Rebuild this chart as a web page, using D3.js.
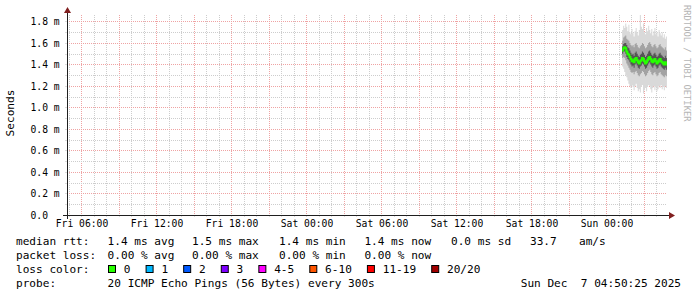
<!DOCTYPE html>
<html>
<head>
<meta charset="utf-8">
<script src="https://cdn.jsdelivr.net/npm/d3@7"></script>
<style>
  body { margin: 0; background: #fff; }
  svg { display: block; font-family: "DejaVu Sans Mono", monospace; }
</style>
</head>
<body>
<svg id="chart" width="697" height="297"></svg>
<script>
// graph window (48h ending at render time)
const graphStart = new Date(2025, 11, 5, 4, 50, 25)
const graphEnd = new Date(2025, 11, 7, 4, 50, 25)

// first sample and step of the probe
const firstSample = new Date(2025, 11, 7, 1, 15, 0)
const stepMinutes = 5

// values in ms, one per step
const medianRtt = [1.53, 1.55, 1.56, 1.55, 1.52, 1.50, 1.49, 1.47, 1.45, 1.43, 1.44, 1.42, 1.45, 1.46, 1.44,
  1.42, 1.41, 1.43, 1.44, 1.46, 1.45, 1.43, 1.41, 1.42, 1.44, 1.46, 1.47, 1.45, 1.43, 1.42, 1.44, 1.45, 1.43,
  1.41, 1.42, 1.44, 1.45, 1.43, 1.42, 1.41, 1.40, 1.42, 1.40]
const pingMin = [1.38, 1.36, 1.33, 1.30, 1.28, 1.25, 1.22, 1.20, 1.18, 1.21, 1.19, 1.16, 1.20, 1.22, 1.18,
  1.15, 1.17, 1.14, 1.19, 1.21, 1.13, 1.16, 1.18, 1.15, 1.19, 1.21, 1.20, 1.17, 1.14, 1.18, 1.20, 1.16, 1.19,
  1.15, 1.17, 1.20, 1.18, 1.21, 1.17, 1.19, 1.16, 1.20, 1.18]
const pingP20 = [1.46, 1.47, 1.46, 1.44, 1.41, 1.39, 1.37, 1.35, 1.33, 1.32, 1.33, 1.31, 1.33, 1.34, 1.32,
  1.30, 1.29, 1.31, 1.32, 1.34, 1.33, 1.31, 1.29, 1.30, 1.32, 1.34, 1.35, 1.33, 1.31, 1.30, 1.32, 1.33, 1.31,
  1.29, 1.30, 1.32, 1.33, 1.31, 1.30, 1.29, 1.28, 1.30, 1.29]
const pingP35 = [1.50, 1.52, 1.52, 1.50, 1.47, 1.45, 1.44, 1.42, 1.40, 1.38, 1.39, 1.37, 1.40, 1.41, 1.39,
  1.37, 1.36, 1.38, 1.39, 1.41, 1.40, 1.38, 1.36, 1.37, 1.39, 1.41, 1.42, 1.40, 1.38, 1.37, 1.39, 1.40, 1.38,
  1.36, 1.37, 1.39, 1.40, 1.38, 1.37, 1.36, 1.35, 1.37, 1.35]
const pingP65 = [1.57, 1.59, 1.60, 1.60, 1.58, 1.56, 1.55, 1.53, 1.51, 1.49, 1.50, 1.48, 1.51, 1.52, 1.50,
  1.48, 1.47, 1.49, 1.50, 1.52, 1.51, 1.49, 1.47, 1.48, 1.50, 1.52, 1.53, 1.51, 1.49, 1.48, 1.50, 1.51, 1.49,
  1.47, 1.48, 1.50, 1.51, 1.49, 1.48, 1.47, 1.46, 1.48, 1.46]
const pingP80 = [1.62, 1.65, 1.66, 1.67, 1.64, 1.63, 1.62, 1.60, 1.58, 1.57, 1.58, 1.56, 1.59, 1.60, 1.58,
  1.56, 1.55, 1.57, 1.58, 1.60, 1.59, 1.57, 1.55, 1.56, 1.58, 1.60, 1.61, 1.59, 1.57, 1.56, 1.58, 1.59, 1.57,
  1.55, 1.56, 1.58, 1.59, 1.57, 1.56, 1.55, 1.54, 1.56, 1.53]
const pingMax = [1.72, 1.76, 1.74, 1.78, 1.75, 1.71, 1.77, 1.70, 1.68, 1.73, 1.69, 1.66, 1.71, 1.74, 1.70,
  1.67, 1.72, 1.86, 1.75, 1.73, 1.78, 1.70, 1.68, 1.74, 1.71, 1.76, 1.72, 1.69, 1.73, 1.67, 1.71, 1.74, 1.68,
  1.70, 1.66, 1.72, 1.69, 1.67, 1.70, 1.65, 1.68, 1.64, 1.66]

const yTickValues = [0, 0.2, 0.4, 0.6, 0.8, 1.0, 1.2, 1.4, 1.6, 1.8]
const yMax = 1.86

// legend
const rttStats = ['1.4 ms avg', '1.5 ms max', '1.4 ms min', '1.4 ms now', '0.0 ms sd']
const lossStats = ['0.00 % avg', '0.00 % max', '0.00 % min', '0.00 % now']
const lossLabels = ['0', '1', '2', '3', '4-5', '6-10', '11-19', '20/20']
const lossColors = ['#26ff00', '#00b8ff', '#0059ff', '#7e00ff', '#ff00ff', '#ff5500', '#ff0000', '#a10000']
const probeText = '20 ICMP Echo Pings (56 Bytes) every 300s'
const stampText = 'Sun Dec  7 04:50:25 2025'

const svg = d3.select('#chart')
const pLeft = 67, pRight = 667, pTop = 15, pBottom = 215
const minorCol = '#cdcdcd', majorCol = '#efa3a3'

const x = d3.scaleTime().domain([graphStart, graphEnd]).range([pLeft, pRight])
const y = d3.scaleLinear().domain([0, yMax]).range([pBottom, pTop])

// grid
const grid = svg.append('g').attr('shape-rendering', 'crispEdges')
const hours = d3.timeHour.range(d3.timeHour.ceil(graphStart), graphEnd)
hours.forEach(function (h) {
  const major = h.getHours() % 3 === 0
  const px = Math.round(x(h)) + 0.5
  const c = major ? majorCol : minorCol
  grid.append('line').attr('x1', px).attr('x2', px).attr('y1', pTop).attr('y2', pBottom)
    .attr('stroke', c).attr('stroke-dasharray', '1,1')
  grid.append('line').attr('x1', px).attr('x2', px).attr('y1', pBottom).attr('y2', pBottom + 2).attr('stroke', '#dcdcdc')
})
d3.range(1, 19).forEach(function (k) {
  const major = k % 2 === 0
  const py = Math.round(y(k / 10)) + 0.5
  const c = major ? majorCol : minorCol
  grid.append('line').attr('x1', pLeft).attr('x2', pRight).attr('y1', py).attr('y2', py)
    .attr('stroke', c).attr('stroke-dasharray', '1,1')
  grid.append('line').attr('x1', pLeft - 2).attr('x2', pLeft).attr('y1', py).attr('y2', py).attr('stroke', '#dcdcdc')
})

// smoke + median
const samples = medianRtt.map(function (m, i) {
  return {
    t: d3.timeMinute.offset(firstSample, i * stepMinutes),
    med: m, lo: pingMin[i], p20: pingP20[i], p35: pingP35[i], p65: pingP65[i], p80: pingP80[i], hi: pingMax[i]
  }
})
const last = samples[samples.length - 1]
const stepped = samples.concat([Object.assign({}, last, { t: d3.timeMinute.offset(last.t, stepMinutes) })])

const bands = [['lo', 'hi', '#d9d9d9'], ['p20', 'p80', '#a3a3a3'], ['p35', 'p65', '#555555']]
bands.forEach(function (b) {
  svg.append('path').datum(stepped)
    .attr('fill', b[2])
    .attr('d', d3.area().curve(d3.curveStepAfter)
      .x(function (d) { return x(d.t) })
      .y0(function (d) { return y(d[b[0]]) })
      .y1(function (d) { return y(d[b[1]]) }))
})
svg.append('path').datum(stepped)
  .attr('fill', 'none').attr('stroke', lossColors[0]).attr('stroke-width', 2)
  .attr('d', d3.line().curve(d3.curveStepAfter)
    .x(function (d) { return x(d.t) })
    .y(function (d) { return y(d.med) }))

// axes lines + arrows
const axisG = svg.append('g').attr('shape-rendering', 'crispEdges')
axisG.append('line').attr('x1', pLeft - 4).attr('x2', pRight + 4).attr('y1', pBottom + 0.5).attr('y2', pBottom + 0.5)
  .attr('stroke', '#1f1f1f')
axisG.append('line').attr('x1', pLeft + 0.5).attr('x2', pLeft + 0.5).attr('y1', pBottom + 4).attr('y2', pTop - 4)
  .attr('stroke', '#1f1f1f')
svg.append('path').attr('fill', '#801f1f')
  .attr('d', `M${pRight + 2},${pBottom - 3}L${pRight + 8},${pBottom + 0.5}L${pRight + 2},${pBottom + 4}Z`)
svg.append('path').attr('fill', '#801f1f')
  .attr('d', `M${pLeft - 3},${pTop - 2}L${pLeft + 0.5},${pTop - 8}L${pLeft + 4},${pTop - 2}Z`)

// tick labels
const xAxis = svg.append('g').attr('transform', `translate(0,${pBottom})`)
  .call(d3.axisBottom(x).ticks(d3.timeHour.every(6)).tickFormat(d3.timeFormat('%a %H:%M')).tickSize(0).tickPadding(5))
xAxis.select('.domain').remove()
xAxis.selectAll('text').attr('font-family', 'DejaVu Sans Mono').attr('font-size', 9.7).attr('fill', '#000')

const yAxis = svg.append('g').attr('transform', `translate(${pLeft},0)`)
  .call(d3.axisLeft(y).tickValues(yTickValues).tickSize(0)
    .tickFormat(function (d) { return d === 0 ? '0.0' : d3.format('.1f')(d) + ' m' }))
yAxis.select('.domain').remove()
yAxis.selectAll('text').attr('text-anchor', 'start').attr('x', 30.5 - pLeft)
  .attr('font-family', 'DejaVu Sans Mono').attr('font-size', 9.7).attr('fill', '#000')

// unit label
svg.append('text').attr('transform', 'translate(14,113) rotate(-90)')
  .attr('text-anchor', 'middle').attr('font-size', 11.1).text('Seconds')

// watermark
svg.append('text').attr('transform', 'translate(684,5) rotate(90)')
  .attr('font-size', 8.8).attr('fill', '#b5b5b5').text('RRDTOOL / TOBI OETIKER')

// legend
const legend = svg.append('g').attr('font-size', 11.1).attr('fill', '#000')
const statCols = [107.6, 192, 279, 364.4, 451]
legend.append('text').attr('x', 16).attr('y', 245).text('median rtt:')
rttStats.forEach(function (s, i) {
  legend.append('text').attr('x', statCols[i]).attr('y', 245).text(s)
})
legend.append('text').attr('x', 530).attr('y', 245).text('33.7')
legend.append('text').attr('x', 579).attr('y', 245).text('am/s')

legend.append('text').attr('x', 16).attr('y', 259).text('packet loss:')
lossStats.forEach(function (s, i) {
  legend.append('text').attr('x', statCols[i]).attr('y', 259).text(s)
})

legend.append('text').attr('x', 16).attr('y', 273).text('loss color:')
let cursor = 108.5
lossLabels.forEach(function (l, i) {
  legend.append('rect').attr('x', cursor).attr('y', 265.5).attr('width', 7).attr('height', 7)
    .attr('fill', lossColors[i]).attr('stroke', '#000').attr('stroke-width', 1)
  const t = legend.append('text').attr('x', cursor + 15.3).attr('y', 273).text(l)
  cursor = cursor + 15.3 + t.node().getComputedTextLength() + 15.6
})

legend.append('text').attr('x', 16).attr('y', 287).text('probe:')
legend.append('text').attr('x', 107.6).attr('y', 287).text(probeText)
legend.append('text').attr('x', 681).attr('y', 287).attr('text-anchor', 'end')
  .style('white-space', 'pre').text(stampText)
</script>
</body>
</html>
